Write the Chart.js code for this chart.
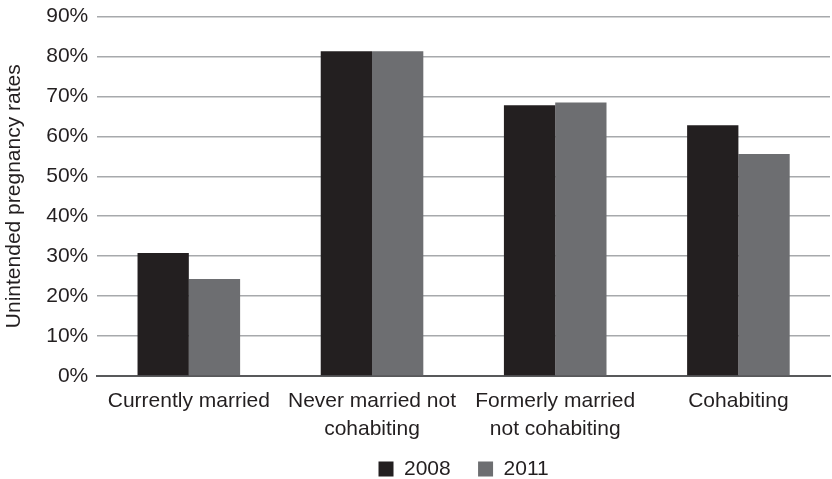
<!DOCTYPE html>
<html>
<head>
<meta charset="utf-8">
<script src="https://cdn.jsdelivr.net/npm/chart.js@4/dist/chart.umd.min.js"></script>
<style>
  body { margin: 0; background: #fff; }
  #wrap { width: 832px; height: 479px; }
</style>
</head>
<body>
<div id="wrap"><canvas id="rateChart" width="832" height="479"></canvas></div>
<script>
// marital status groups, two survey years
const groups = ['Currently married', ['Never married not', 'cohabiting'], ['Formerly married', 'not cohabiting'], 'Cohabiting'];
const rates2008 = [30.8, 81.3, 67.8, 62.8];
const rates2011 = [24.3, 81.3, 68.5, 55.6];
const yTicks = [0, 10, 20, 30, 40, 50, 60, 70, 80, 90];

const textColor = '#231f20';
const fontFamily = '"Liberation Sans", Arial, Helvetica, sans-serif';

Chart.defaults.font.family = fontFamily;
Chart.defaults.font.size = 21;
Chart.defaults.color = textColor;

new Chart(document.getElementById('rateChart'), {
    type: 'bar',
    data: {
        labels: groups,
        datasets: [
            { label: '2008', data: rates2008, backgroundColor: '#231f20' },
            { label: '2011', data: rates2011, backgroundColor: '#6d6e71' }
        ]
    },
    options: {
        responsive: false,
        animation: false,
        categoryPercentage: 0.56,
        barPercentage: 1.0,
        layout: { padding: { top: -5, right: 2, left: 0, bottom: -10.5 } },
        plugins: {
            legend: {
                position: 'bottom',
                fullSize: false,
                labels: {
                    boxWidth: 15,
                    boxHeight: 15,
                    padding: 4,
                    color: textColor,
                    // pad all but the last entry so the items sit further apart
                    generateLabels: (chart) => {
                        const items = Chart.defaults.plugins.legend.labels.generateLabels(chart);
                        items.forEach((it, i) => { if (i < items.length - 1) it.text += '\u00a0\u00a0\u00a0\u00a0'; });
                        return items;
                    }
                }
            },
            tooltip: { enabled: false }
        },
        scales: {
            x: {
                grid: { display: false, drawTicks: false },
                border: { color: '#58595b', width: 2 },
                ticks: { color: textColor, padding: 12, maxRotation: 0, font: { lineHeight: 1.3 } }
            },
            y: {
                min: 0,
                max: 90,
                afterBuildTicks: (axis) => { axis.ticks = yTicks.map(v => ({ value: v })); },
                border: { display: false },
                grid: {
                    color: (ctx) => ctx.tick && ctx.tick.value === 0 ? '#58595b' : '#a7a9ac',
                    lineWidth: 1.5,
                    drawTicks: false
                },
                ticks: {
                    color: textColor,
                    padding: 9,
                    font: { lineHeight: 0.72 },
                    callback: (v) => v + '%'
                },
                title: {
                    display: true,
                    text: 'Unintended pregnancy rates',
                    color: textColor,
                    font: { size: 21 },
                    padding: { top: 2, bottom: 10 }
                }
            }
        }
    }
});
</script>
</body>
</html>
